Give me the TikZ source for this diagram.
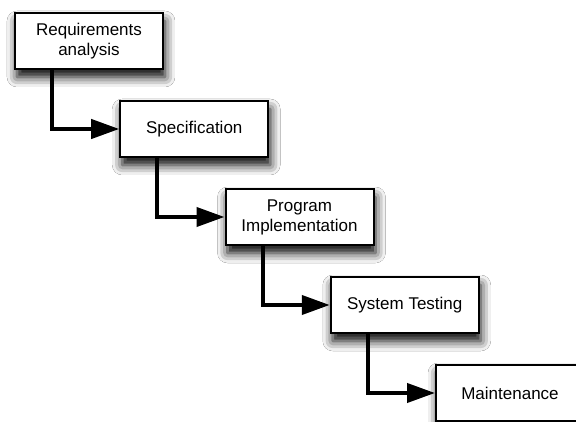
\documentclass[tikz,border=0pt]{standalone}
\usepackage{fontspec}
\setmainfont{Liberation Sans}
\usetikzlibrary{positioning,arrows.meta,shadows.blur}
\tikzset{
	stage/.style={draw=black, line width=2pt, fill=white, minimum width=148pt, minimum height=56pt,
		align=center, inner sep=2pt, font=\fontsize{17}{20}\selectfont,
		blur shadow={shadow xshift=2pt, shadow yshift=-8pt, shadow blur radius=10pt, shadow opacity=100}},
	flow/.style={line width=4pt, -{Triangle[length=28pt,width=19pt]}}
}

\begin{document}
\begin{tikzpicture}[node distance=30pt and -44.75pt]
	\clip (-89pt,41pt) rectangle (487pt,-381pt);
	\fill[white] (-89pt,41pt) rectangle (487pt,-381pt);
	\node[stage] (req) at (0,0) {Requirements\\analysis};
	\node[stage, below right=of req] (spec) {Specification};
	\node[stage, below right=of spec] (impl) {Program\\Implementation};
	\node[stage, below right=of impl] (test) {System Testing};
	\node[stage, below right=of test] (maint) {Maintenance};
	% connectors
	\draw[flow] ([xshift=38pt]req.south west) |- (spec.west);
	\draw[flow] ([xshift=38pt]spec.south west) |- (impl.west);
	\draw[flow] ([xshift=38pt]impl.south west) |- (test.west);
	\draw[flow] ([xshift=38pt]test.south west) |- (maint.west);
\end{tikzpicture}
\end{document}
